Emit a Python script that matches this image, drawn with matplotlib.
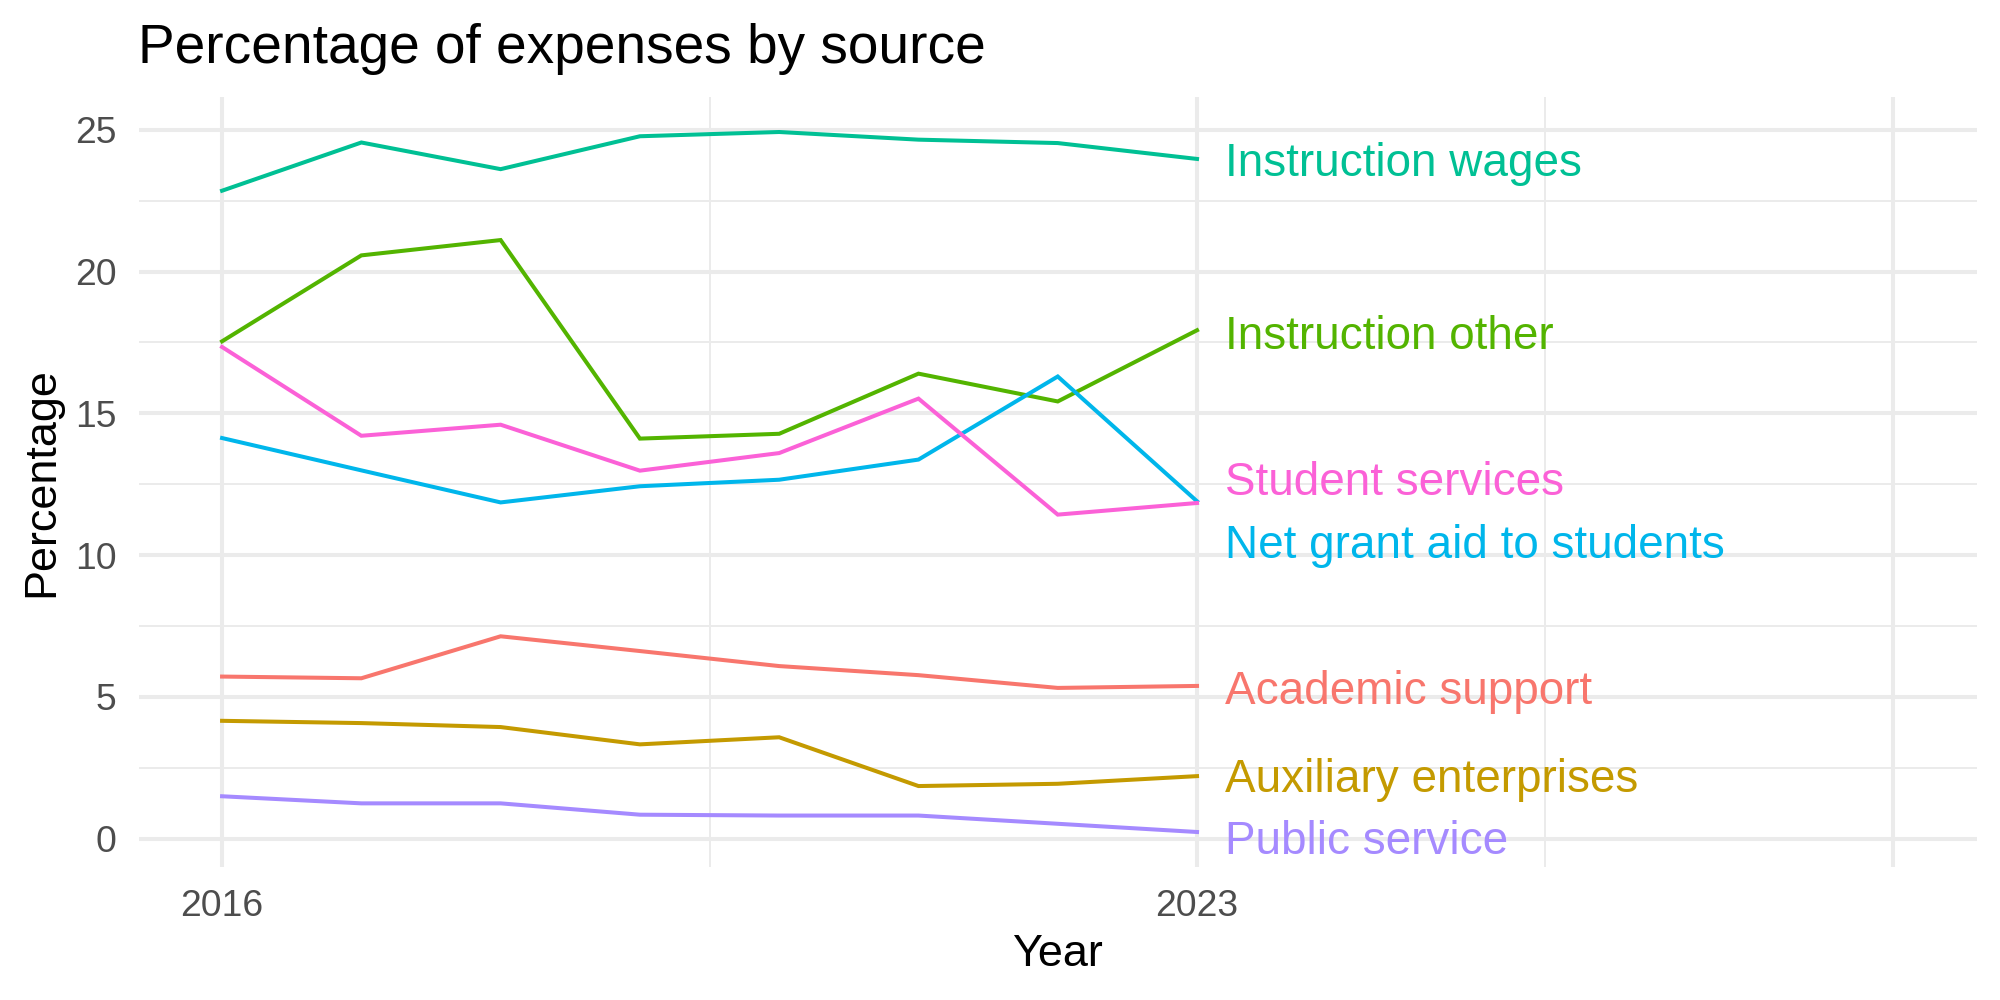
import matplotlib
matplotlib.use("Agg")
import matplotlib.pyplot as plt
from matplotlib.ticker import FixedLocator
from matplotlib.transforms import offset_copy

# Values (percent of expenses)
years = [2016, 2017, 2018, 2019, 2020, 2021, 2022, 2023]

academic_support = [5.72, 5.66, 7.14, 6.62, 6.09, 5.77, 5.32, 5.39]
auxiliary_enterprises = [4.16, 4.08, 3.94, 3.33, 3.58, 1.86, 1.94, 2.21]
instruction_other = [17.54, 20.57, 21.11, 14.11, 14.28, 16.40, 15.42, 17.93]
instruction_wages = [22.85, 24.55, 23.61, 24.77, 24.92, 24.65, 24.53, 23.97]
net_grant_aid = [14.13, 12.99, 11.86, 12.43, 12.66, 13.37, 16.30, 11.90]
public_service = [1.50, 1.25, 1.25, 0.85, 0.82, 0.82, 0.53, 0.24]
student_services = [17.34, 14.21, 14.60, 12.98, 13.60, 15.52, 11.43, 11.84]

series_names = ['Academic support', 'Auxiliary enterprises', 'Instruction other',
                'Instruction wages', 'Net grant aid to students', 'Public service',
                'Student services']
series_values = [academic_support, auxiliary_enterprises, instruction_other,
                 instruction_wages, net_grant_aid, public_service, student_services]

# ggplot default hue colours
series_colors = ['#F8766D', '#C49A00', '#53B400', '#00C094', '#00B6EB', '#A58AFF', '#FB61D7']

# where the (repelled) end labels sit
label_y = [5.32, 2.25, 17.87, 23.95, 10.49, 0.06, 12.71]

x_breaks = [2016, 2023, 2028]
x_break_labels = ['2016', '2023', '']
x_minor = [2019.5, 2025.5]
y_breaks = [0, 5, 10, 15, 20, 25]
y_minor = [2.5, 7.5, 12.5, 17.5, 22.5]

plt.rcParams['font.family'] = ['Liberation Sans', 'DejaVu Sans']

fig = plt.figure(figsize=(10, 5), dpi=200)
ax = fig.add_axes([138.5 / 2000, 1 - 867 / 1000, (1977 - 138.5) / 2000, (867 - 97) / 1000])

for name, vals, col in zip(series_names, series_values, series_colors):
    ax.plot(years, vals, color=col, lw=1.45, solid_joinstyle='miter', zorder=3)

# end labels, cap centre on the given y
lab_trans = offset_copy(ax.transData, fig=fig, y=-1.65, units='points')
for name, ly, col in zip(series_names, label_y, series_colors):
    ax.text(years[-1] + 0.2, ly, name, color=col, fontsize=16.5, ha='left', va='center',
            transform=lab_trans)

# scales with ggplot-like 5% expansion
all_vals = [v for s in series_values for v in s]
ymin, ymax = min(all_vals), max(all_vals)
yr = ymax - ymin
ax.set_ylim(ymin - 0.05 * yr, ymax + 0.05 * yr)
xr = x_breaks[-1] - years[0]
ax.set_xlim(years[0] - 0.05 * xr, x_breaks[-1] + 0.05 * xr)

ax.xaxis.set_major_locator(FixedLocator(x_breaks))
ax.set_xticklabels(x_break_labels)
ax.xaxis.set_minor_locator(FixedLocator(x_minor))
ax.yaxis.set_major_locator(FixedLocator(y_breaks))
ax.yaxis.set_minor_locator(FixedLocator(y_minor))

ax.set_axisbelow(True)
ax.grid(which='major', color='#EBEBEB', lw=1.45)
ax.grid(which='minor', color='#EBEBEB', lw=0.72)
for sp in ax.spines.values():
    sp.set_visible(False)
ax.tick_params(which='both', length=0)
ax.tick_params(axis='both', which='major', labelsize=13.4, labelcolor='#4D4D4D', pad=7.9)

ax.set_xlabel('Year', fontsize=16.2, labelpad=3.6)
ax.set_ylabel('Percentage', fontsize=16.2, labelpad=4.7)
ax.set_title('Percentage of expenses by source', loc='left', fontsize=19.8, pad=12.1)

fig.savefig('out.png', dpi=200, facecolor='white')
